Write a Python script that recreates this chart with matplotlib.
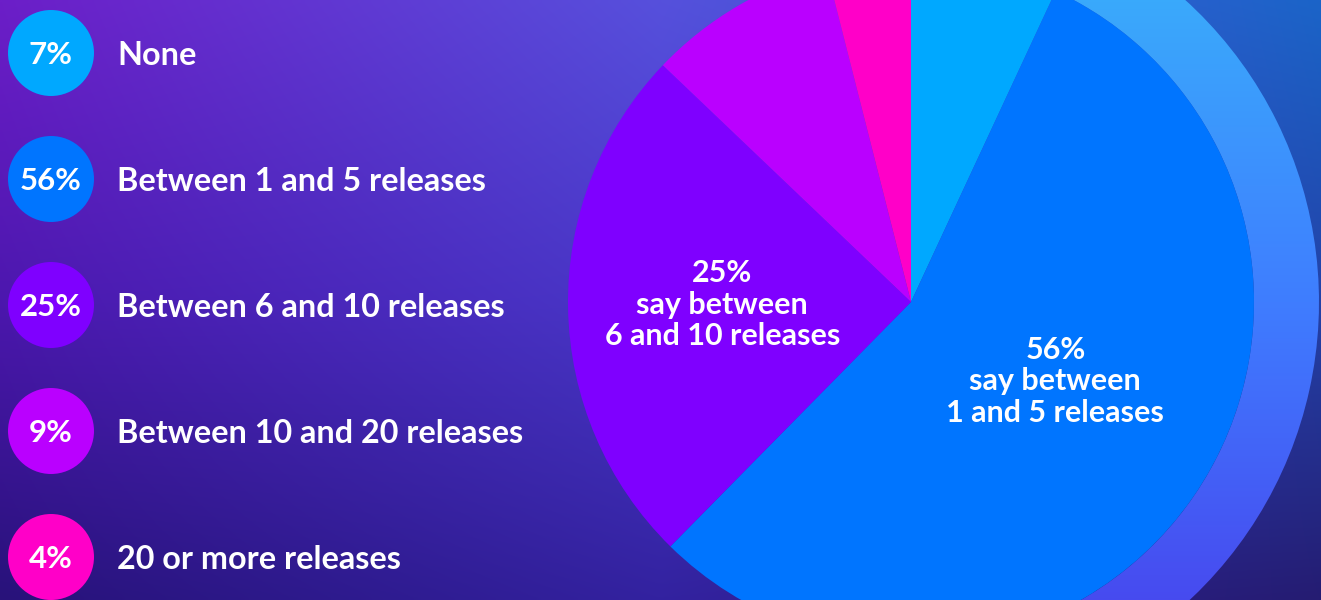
import matplotlib.pyplot as plt
import numpy as np
from matplotlib.patches import Circle, Wedge
from matplotlib.colors import to_rgb

# release counts per respondent
categories = ["None", "Between 1 and 5 releases", "Between 6 and 10 releases",
              "Between 10 and 20 releases", "20 or more releases"]
shares = [7, 56, 25, 9, 4]
pct_labels = ["7%", "56%", "25%", "9%", "4%"]
slice_colors = ["#00a8ff", "#0075ff", "#7f00ff", "#ba00ff", "#ff00c8"]
callouts = {1: "56%\nsay between\n1 and 5 releases",
            2: "25%\nsay between\n6 and 10 releases"}

W, H = 1321, 600
plt.rcParams['font.family'] = ['Lato', 'DejaVu Sans']

fig = plt.figure(figsize=(W / 100, H / 100), dpi=100)
ax = fig.add_axes([0, 0, 1, 1])
ax.set_xlim(0, W)
ax.set_ylim(0, H)
ax.axis("off")

# background: 3x3 grid of colours, blended bilinearly
grid = [["#6c1ec8", "#5650dc", "#1b64c8"],
        ["#4c17ae", "#4838c8", "#2342a8"],
        ["#28127a", "#3322a0", "#251c72"]]
grid = np.array([[to_rgb(c) for c in row] for row in grid])
gx = np.linspace(0, 1, 3)
xs = np.linspace(0, 1, 330)
ys = np.linspace(0, 1, 150)
rows = np.stack([np.stack([np.interp(xs, gx, grid[r, :, ch]) for ch in range(3)], -1)
                 for r in range(3)])
bg = np.stack([np.stack([np.interp(ys, gx, rows[:, j, ch]) for j in range(len(xs))], 0)
               for ch in range(3)], -1).transpose(1, 0, 2)
ax.imshow(bg, extent=(0, W, 0, H), origin="upper", aspect="auto",
          interpolation="bilinear", zorder=0)

# pie
cx, cy, R = 911, 298, 343
wedges, _ = ax.pie(shares, colors=slice_colors, startangle=90, counterclock=False,
                   center=(cx, cy), radius=R, frame=True,
                   wedgeprops=dict(linewidth=0))
for w in wedges:
    w.set_zorder(3)

# highlight ring around the biggest slice
big = wedges[1]
ring = Wedge((cx, cy), 408, -90, big.theta2, width=408 - R, linewidth=0,
             facecolor="none", zorder=2)
ax.add_patch(ring)
top_c, mid_c, bot_c = to_rgb("#38b9fa"), to_rgb("#3f7dff"), to_rgb("#4a38ea")
t = np.linspace(0, 1, 300)[:, None]
grad = np.where(t < 0.5,
                (1 - 2 * t) * np.array(top_c) + 2 * t * np.array(mid_c),
                (2 - 2 * t) * np.array(mid_c) + (2 * t - 1) * np.array(bot_c))
grad = np.repeat(grad[:, None, :], 2, axis=1)
img = ax.imshow(grad, extent=(cx - 410, cx + 410, cy - 410, cy + 410),
                origin="upper", aspect="auto", zorder=2)
img.set_clip_path(ring)

# text inside the two large slices
dist = {1: 0.48, 2: 0.55}
for i, txt in callouts.items():
    w = wedges[i]
    mid = np.deg2rad((w.theta1 + w.theta2) / 2 + (6 if i == 1 else 0))
    r = dist[i] * R
    ax.text(cx + r * np.cos(mid), cy + r * np.sin(mid), txt, color="white",
            fontsize=22, fontweight="bold", ha="center", va="center",
            linespacing=1.15, zorder=5)

ax.set_xlim(0, W)
ax.set_ylim(0, H)
ax.set_aspect("equal")

# legend rows
for k, (lab, pct, col) in enumerate(zip(categories, pct_labels, slice_colors)):
    y = H - (53 + 126 * k)
    ax.add_patch(Circle((51, y), 43, facecolor=col, linewidth=0, zorder=4))
    ax.text(51, y - 11, pct, color="white", fontsize=22.5, fontweight="bold",
            ha="center", va="baseline", zorder=5)
    ax.text(117, y - 12, lab, color="white", fontsize=23.3, fontweight="bold",
            ha="left", va="baseline", zorder=5)

fig.savefig("out.png", dpi=100)
